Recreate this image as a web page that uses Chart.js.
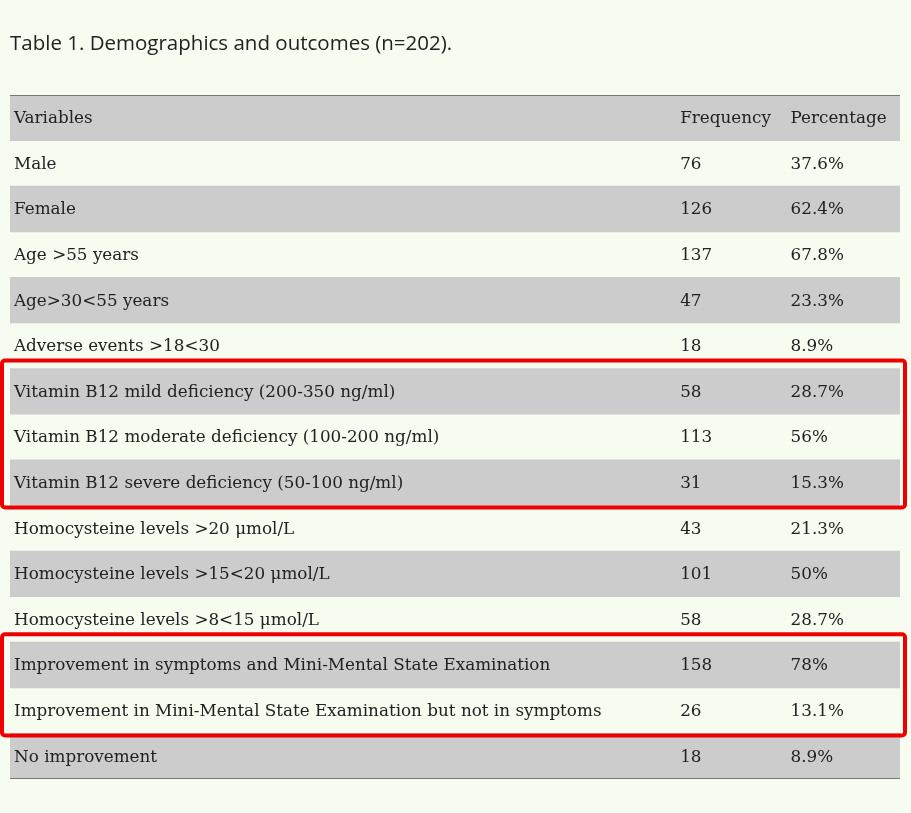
<!DOCTYPE html>
<html><head><meta charset="utf-8">
<script src="https://cdn.jsdelivr.net/npm/chart.js@4"></script>
<style>html,body{margin:0;padding:0;background:#f6fdf0;}#wrap{width:911px;height:813px;}</style>
</head><body><div id="wrap"><canvas id="c" width="911" height="813"></canvas></div>
<script>
const title = "Table 1. Demographics and outcomes (n=202).";
const headers = ["Variables", "Frequency", "Percentage"];
const variables = ["Male","Female","Age >55 years","Age>30<55 years","Adverse events >18<30",
 "Vitamin B12 mild deficiency (200-350 ng/ml)","Vitamin B12 moderate deficiency (100-200 ng/ml)",
 "Vitamin B12 severe deficiency (50-100 ng/ml)","Homocysteine levels >20 μmol/L",
 "Homocysteine levels >15<20 μmol/L","Homocysteine levels >8<15 μmol/L",
 "Improvement in symptoms and Mini-Mental State Examination",
 "Improvement in Mini-Mental State Examination but not in symptoms","No improvement"];
const frequency = ["76","126","137","47","18","58","113","31","43","101","58","158","26","18"];
const percentage = ["37.6%","62.4%","67.8%","23.3%","8.9%","28.7%","56%","15.3%","21.3%","50%","28.7%","78%","13.1%","8.9%"];
const highlightGroups = [[5,7],[11,12]];

const rows = [headers[0], ...variables];
const tablePlugin = {
  id:'table',
  afterDatasetsDraw(chart){
    const ctx = chart.ctx, x = chart.scales.x, y = chart.scales.y, a = chart.chartArea;
    ctx.save();
    ctx.fillStyle = '#222'; ctx.textBaseline = 'middle';
    ctx.font = '20.5px "Open Sans", sans-serif';
    ctx.fillText(title, 10, 44);
    const half = (y.getPixelForValue(1) - y.getPixelForValue(0))/2;
    ctx.strokeStyle = '#777'; ctx.lineWidth = 1;
    ctx.beginPath(); ctx.moveTo(a.left, a.top+0.5); ctx.lineTo(a.right, a.top+0.5);
    ctx.moveTo(a.left, a.bottom-0.5); ctx.lineTo(a.right, a.bottom-0.5); ctx.stroke();
    ctx.font = '16.8px "DejaVu Serif", serif';
    ctx.fillStyle = '#222';
    const c1 = x.getPixelForValue(0.0045), c2 = x.getPixelForValue(0.753), c3 = x.getPixelForValue(0.877);
    rows.forEach((r,i)=>{
      const py = y.getPixelForValue(i) + 1;
      ctx.fillText(r, c1, py);
      ctx.fillText(i===0?headers[1]:frequency[i-1], c2, py);
      ctx.fillText(i===0?headers[2]:percentage[i-1], c3, py);
    });
    ctx.strokeStyle = '#ee0000'; ctx.lineWidth = 4;
    highlightGroups.forEach(([s,e])=>{
      const t = y.getPixelForValue(s+1)-half, b = y.getPixelForValue(e+1)+half;
      ctx.beginPath(); ctx.roundRect(2, t-8, 905-2, b-t+10, 3); ctx.stroke();
    });
    ctx.restore();
  }
};
new Chart(document.getElementById('c'), {
  type:'bar',
  data:{labels:rows, datasets:[{data:rows.map(()=>[0,1]),
    backgroundColor:rows.map((_,i)=>i%2===0?'#cccccc':'rgba(0,0,0,0)'),
    barPercentage:1, categoryPercentage:1, borderWidth:0}]},
  options:{indexAxis:'y', responsive:false, animation:false,
    layout:{padding:{left:10,right:11,top:95,bottom:34}},
    plugins:{legend:{display:false},tooltip:{enabled:false}},
    scales:{x:{display:false,min:0,max:1},y:{display:false,grid:{display:false}}}},
  plugins:[tablePlugin]
});
</script></body></html>
